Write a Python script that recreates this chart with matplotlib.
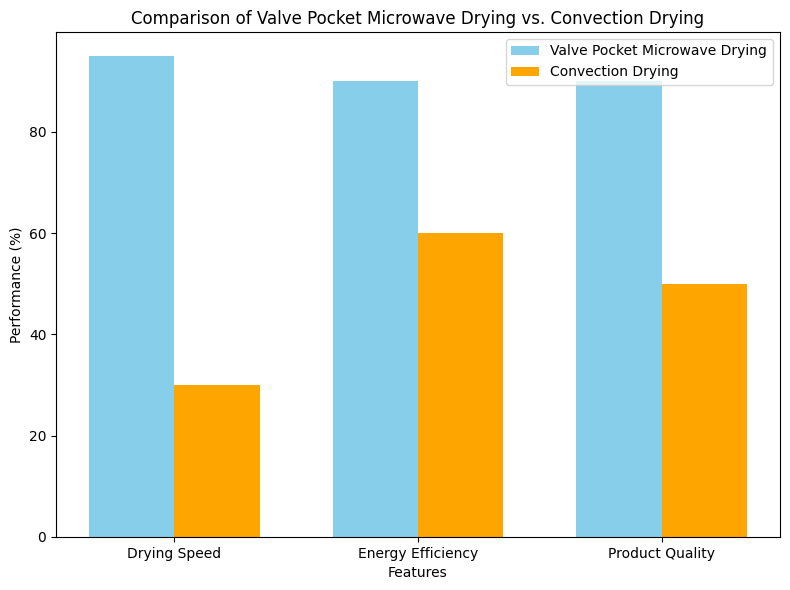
import numpy as np
import matplotlib.pyplot as plt

features = ['Drying Speed', 'Energy Efficiency', 'Product Quality']
microwave = [95, 90, 90]
convection = [30, 60, 50]

x = np.arange(len(features))
width = 0.35

fig, ax = plt.subplots(figsize=(7.9, 5.9), dpi=100)
ax.bar(x - width / 2, microwave, width, label='Valve Pocket Microwave Drying', color='skyblue')
ax.bar(x + width / 2, convection, width, label='Convection Drying', color='orange')
ax.set_xlabel('Features')
ax.set_ylabel('Performance (%)')
ax.set_title('Comparison of Valve Pocket Microwave Drying vs. Convection Drying')
ax.set_xticks(x)
ax.set_xticklabels(features)
ax.legend()
fig.subplots_adjust(left=0.071, right=0.987, top=0.946, bottom=0.09)
plt.savefig('out.png')
